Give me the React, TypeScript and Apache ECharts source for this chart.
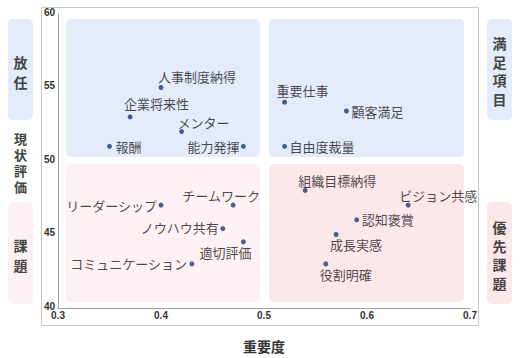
import React, { useEffect, useRef } from "react";
import * as echarts from "echarts";

// ---- data ----
const itemNames = [
  "人事制度納得", "企業将来性", "メンター", "報酬", "能力発揮",
  "重要仕事", "顧客満足", "自由度裁量",
  "組織目標納得", "ビジョン共感", "認知褒賞", "成長実感", "役割明確",
  "リーダーシップ", "チームワーク", "ノウハウ共有", "適切評価", "コミュニケーション",
];
const importance = [
  0.40, 0.37, 0.42, 0.35, 0.48,
  0.52, 0.58, 0.52,
  0.54, 0.64, 0.59, 0.57, 0.56,
  0.40, 0.47, 0.46, 0.48, 0.43,
];
const satisfaction = [
  55, 53, 52, 51, 51,
  54, 53.4, 51,
  48, 47, 46, 45, 43,
  47, 47, 45.4, 44.5, 43,
];
const xTicks = [0.3, 0.4, 0.5, 0.6, 0.7];
const yTicks = [40, 45, 50, 55, 60];
const xAxisName = "重要度";
// quadrant bounds: [xFrom, xTo, yFrom, yTo]
const quadrants = [
  [0.3, 0.5, 50, 60],
  [0.5, 0.7, 50, 60],
  [0.3, 0.5, 40, 50],
  [0.5, 0.7, 40, 50],
];
const sideLabels = ["放任", "現状評価", "課題", "満足項目", "優先課題"];

// ---- styles ----
const quadStyle = [
  { fill: "#e4ecfb", l: 8, r: 4, t: 5, b: 4 },
  { fill: "#e4ecfb", l: 5, r: 6, t: 5, b: 4 },
  { fill: "#fdf1f3", l: 8, r: 4, t: 3, b: 6 },
  { fill: "#fce7ea", l: 5, r: 6, t: 3, b: 6 },
];
const labelPlace: Record<string, [number, number, string]> = {
  "人事制度納得": [-3, -11, "left"],
  "企業将来性": [-6, -13, "left"],
  "メンター": [-4, -9, "left"],
  "報酬": [6, 0, "left"],
  "能力発揮": [-4, 0, "right"],
  "重要仕事": [-8, -12, "left"],
  "顧客満足": [5, 0, "left"],
  "自由度裁量": [5, 0, "left"],
  "組織目標納得": [-7, -10, "left"],
  "ビジョン共感": [-9, -10, "left"],
  "認知褒賞": [5, 0, "left"],
  "成長実感": [-6, 10, "left"],
  "役割明確": [-6, 11, "left"],
  "リーダーシップ": [-4, 0, "right"],
  "チームワーク": [-12, -10, "center"],
  "ノウハウ共有": [-4, -1, "right"],
  "適切評価": [8, 11, "right"],
  "コミュニケーション": [-5, 0, "right"],
};
const CJK = '"Noto Sans CJK JP", sans-serif';
const SYM = 5;

export default function App() {
  const ref = useRef<HTMLDivElement>(null);
  useEffect(() => {
    if (!ref.current) return;
    const chart = echarts.init(ref.current, null, { renderer: "svg" });

    const scatterData = itemNames.map((n, i) => {
      const p = labelPlace[n] || [5, 0, "left"];
      return {
        name: n,
        value: [importance[i], satisfaction[i]],
        label: {
          show: true,
          formatter: n,
          position: [SYM / 2 + p[0], SYM / 2 + p[1]],
          align: p[2],
          verticalAlign: "middle",
        },
      };
    });

    const sideBox = (x: number, y: number, h: number, fill: string) => ({
      type: "rect",
      shape: { x, y, width: 25, height: h, r: 5 },
      style: { fill },
      z: 0,
    });
    const vText = (cx: number, cy: number, s: string, lh: number, fs: number) => ({
      type: "text",
      x: cx,
      y: cy,
      style: {
        text: s.split("").join("\n"),
        fontSize: fs,
        fontWeight: "bold",
        fontFamily: CJK,
        fill: "#444",
        lineHeight: lh,
        align: "center",
        verticalAlign: "middle",
      },
      z: 1,
    });

    chart.setOption({
      animation: false,
      grid: { left: 58, right: 50, top: 14, bottom: 48 },
      xAxis: {
        type: "value",
        min: xTicks[0],
        max: xTicks[xTicks.length - 1],
        interval: 0.1,
        name: xAxisName,
        nameLocation: "middle",
        nameGap: 31,
        nameTextStyle: { fontSize: 14, fontWeight: "bold", color: "#333", fontFamily: CJK },
        axisLine: { show: true, lineStyle: { color: "#a0a0a0" } },
        axisTick: { show: false },
        splitLine: { show: false },
        axisLabel: {
          margin: 2,
          fontSize: 10,
          fontWeight: "bold",
          color: "#333",
          fontFamily: '"Liberation Sans", sans-serif',
          formatter: (v: number) => v.toFixed(1),
        },
      },
      yAxis: {
        type: "value",
        min: yTicks[0],
        max: yTicks[yTicks.length - 1],
        interval: 5,
        axisLine: { show: true, lineStyle: { color: "#a0a0a0" } },
        axisTick: { show: false },
        splitLine: { show: false },
        axisLabel: {
          margin: 3,
          fontSize: 10,
          fontWeight: "bold",
          color: "#333",
          fontFamily: '"Liberation Sans", sans-serif',
          verticalAlign: "bottom",
          padding: [0, 0, -3, 0],
        },
      },
      series: [
        {
          type: "custom",
          silent: true,
          z: 1,
          clip: false,
          encode: { x: [0, 1], y: [2, 3] },
          data: quadrants,
          renderItem: (params: any, api: any) => {
            const i = params.dataIndex;
            const q = quadrants[i];
            const st = quadStyle[i];
            const a = api.coord([q[0], q[3]]);
            const b = api.coord([q[1], q[2]]);
            return {
              type: "rect",
              shape: {
                x: a[0] + st.l,
                y: a[1] + st.t,
                width: b[0] - a[0] - st.l - st.r,
                height: b[1] - a[1] - st.t - st.b,
                r: 5,
              },
              style: { fill: st.fill },
            };
          },
        },
        {
          type: "scatter",
          z: 3,
          symbolSize: SYM,
          itemStyle: { color: "#1c3a78" },
          label: {
            fontSize: 13,
            color: "#1a1a1a",
            fontFamily: CJK,
          },
          data: scatterData,
        },
      ],
      graphic: [
        {
          type: "rect",
          shape: { x: 41.5, y: 7.5, width: 437, height: 318 },
          style: { fill: "none", stroke: "#c8c8c8", lineWidth: 1 },
          z: 0,
          silent: true,
        },
        sideBox(8, 19, 101, "#e4ecfb"),
        sideBox(8, 202, 102, "#fdf1f3"),
        sideBox(487, 19, 101, "#e4ecfb"),
        sideBox(487, 202, 102, "#fce7ea"),
        vText(20.5, 72, sideLabels[0], 19.5, 14),
        vText(20.5, 162, sideLabels[1], 16, 13),
        vText(20.5, 255, sideLabels[2], 19.5, 14),
        vText(499.5, 71, sideLabels[3], 18.5, 14),
        vText(499.5, 255, sideLabels[4], 18.7, 14),
      ],
    });
    return () => chart.dispose();
  }, []);
  return (
    <div
      ref={ref}
      style={{ position: "fixed", left: 0, top: 0, width: 520, height: 358, background: "#fff" }}
    />
  );
}
